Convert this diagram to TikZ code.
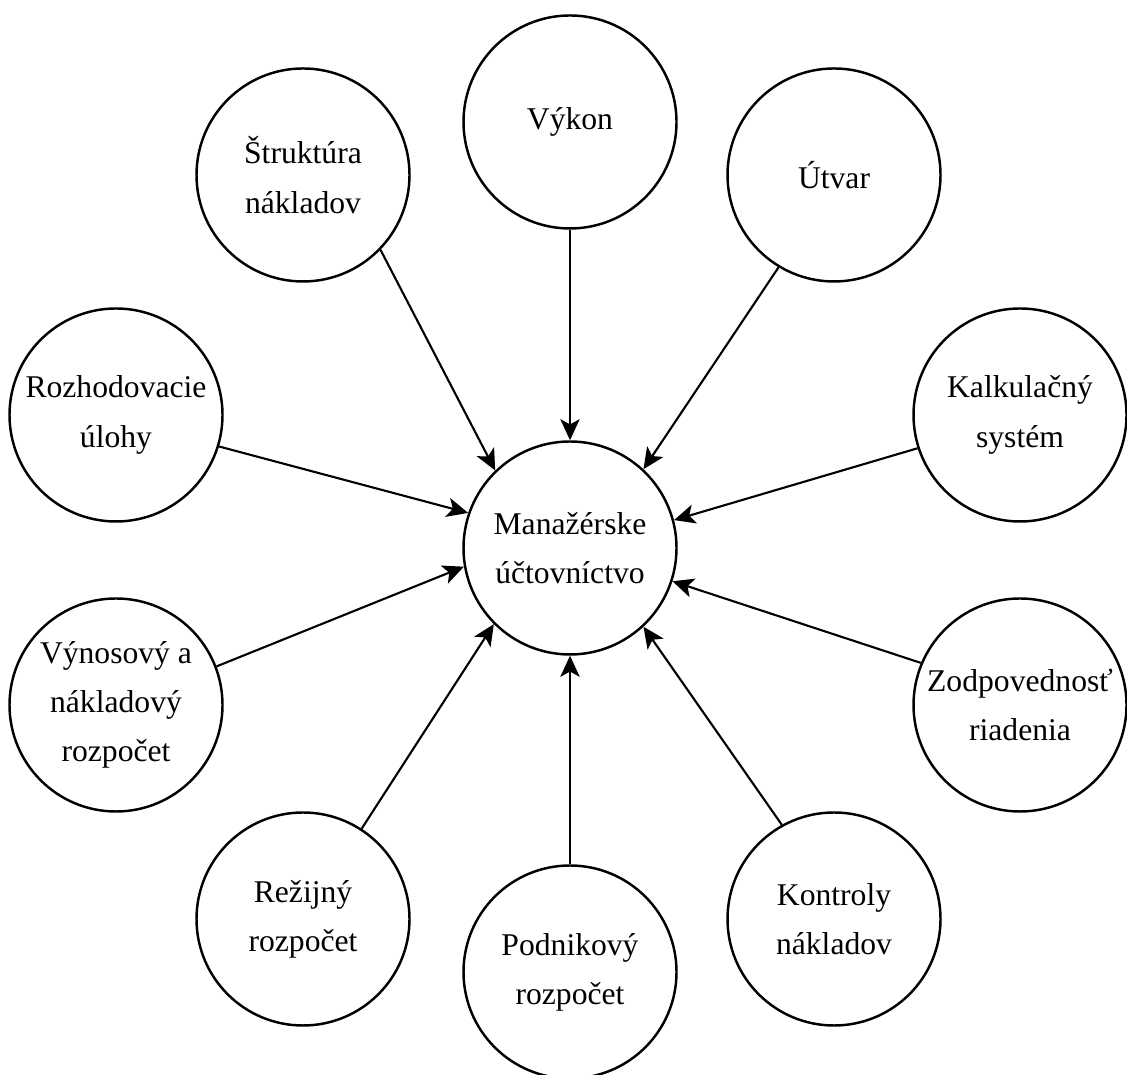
\documentclass[tikz,border=0pt]{standalone}
\usepackage{fontspec}
\setmainfont{Liberation Serif}
\usetikzlibrary{arrows.meta}

\begin{document}
\begin{tikzpicture}[
    topic/.style={
        draw,
        circle,
        line width=0.7pt,
        minimum size=2.13cm,
        inner sep=0pt,
        align=center,
        font=\fontsize{9}{14}\selectfont
    },
    hub/.style={topic},
    arrow/.style={-{Stealth[length=6pt, width=5.5pt, inset=1.5pt]}, line width=0.6pt}
]
\useasboundingbox (0,0) rectangle (11.27,10.75);

% Central node
\node[hub] (mu) at (5.70,5.27) {Manažérske\\účtovníctvo};

% Surrounding nodes (clockwise from top)
\node[topic] (vykon) at (5.70,9.53) {Výkon};
\node[topic] (utvar) at (8.34,9.00) {Útvar};
\node[topic] (kalk) at (10.20,6.60) {Kalkulačný\\systém};
\node[topic] (zodp) at (10.20,3.70) {Zodpovednosť\\riadenia};
\node[topic] (kontroly) at (8.34,1.56) {Kontroly\\nákladov};
\node[topic] (podnik) at (5.70,1.03) {Podnikový\\rozpočet};
\node[topic] (rezia) at (3.03,1.56) {Režijný\\rozpočet};
\node[topic] (vynos) at (1.16,3.70) {Výnosový a\\nákladový\\rozpočet};
\node[topic] (rozhod) at (1.16,6.60) {Rozhodovacie\\úlohy};
\node[topic] (struktura) at (3.03,9.00) {Štruktúra\\nákladov};

% Arrows
\draw[arrow] (vykon.270) -- (mu.90);
\draw[arrow] (utvar.239) -- (mu.47);
\draw[arrow] (kalk.198) -- (mu.15);
\draw[arrow] (zodp.157) -- (mu.342);
\draw[arrow] (kontroly.119) -- (mu.313);
\draw[arrow] (podnik.90) -- (mu.270);
\draw[arrow] (rezia.57) -- (mu.225);
\draw[arrow] (vynos.21) -- (mu.190);
\draw[arrow] (rozhod.343) -- (mu.161);
\draw[arrow] (struktura.316) -- (mu.134);

\end{tikzpicture}
\end{document}
